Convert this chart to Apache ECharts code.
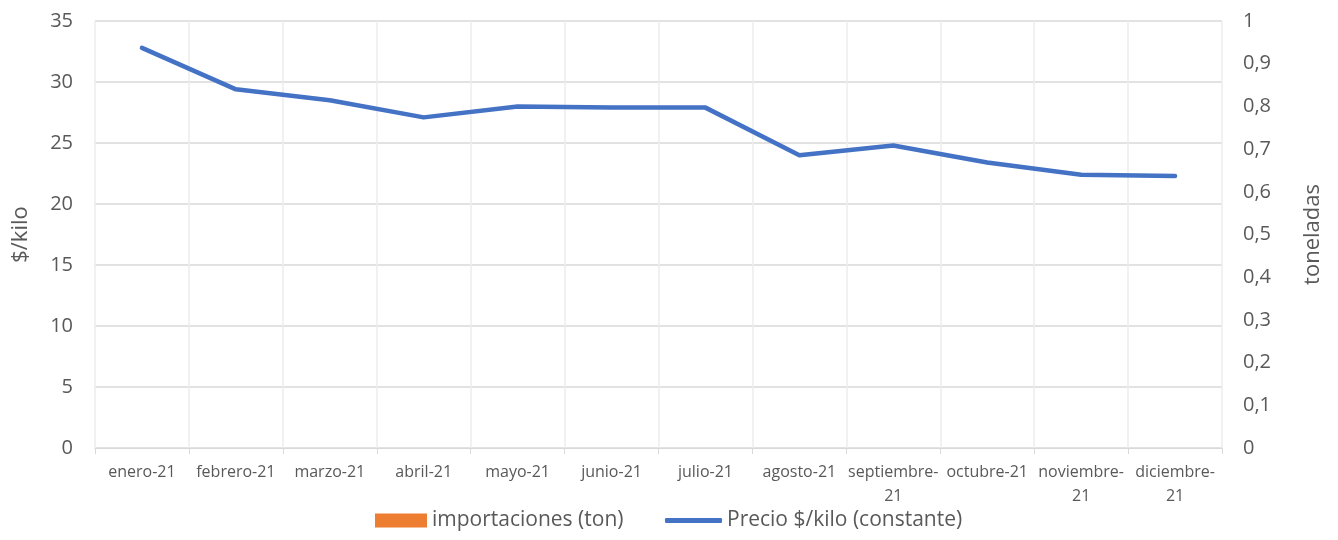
<!DOCTYPE html>
<html><head><meta charset="utf-8">
<script src="https://cdn.jsdelivr.net/npm/echarts@6/dist/echarts.min.js"></script>
<style>html,body{margin:0;padding:0;background:#fff}#c{width:1338px;height:540px}</style>
</head><body><div id="c"></div>
<script>
const categories = ['enero-21','febrero-21','marzo-21','abril-21','mayo-21','junio-21','julio-21','agosto-21','septiembre-21','octubre-21','noviembre-21','diciembre-21'];
const precio = [32.8, 29.4, 28.5, 27.1, 28.0, 27.9, 27.9, 24.0, 24.8, 23.4, 22.4, 22.3];
const importaciones = [null, null, null, null, null, null, null, null, null, null, null, null];
const leftTicks = {min: 0, max: 35, interval: 5};
const rightTicks = {min: 0, max: 1, interval: 0.1};

const FONT = '"Open Sans", Lato, sans-serif';
const chart = echarts.init(document.getElementById('c'));
chart.setOption({
  animation: false,
  textStyle: {fontFamily: FONT},
  grid: {left: 95, right: 116, top: 21, bottom: 92, containLabel: false},
  legend: [
    {
      top: 505, left: 370, itemWidth: 52, itemHeight: 14,
      textStyle: {fontSize: 21, color: '#595959', fontFamily: FONT},
      data: [{name: 'importaciones (ton)', icon: 'rect'}]
    },
    {
      top: 505, left: 660, itemWidth: 57, itemHeight: 5,
      textStyle: {fontSize: 21, color: '#595959', fontFamily: FONT},
      data: [{name: 'Precio $/kilo (constante)', icon: 'roundRect'}]
    }
  ],
  xAxis: {
    type: 'category', data: categories, boundaryGap: true,
    axisLine: {lineStyle: {color: '#d9d9d9', width: 1}},
    axisTick: {show: true, alignWithLabel: false, length: 6, lineStyle: {color: '#d9d9d9'}},
    splitLine: {show: true, lineStyle: {color: '#ececec', width: 1.5}},
    axisLabel: {
      interval: 0, color: '#595959', fontSize: 16, margin: 12, lineHeight: 24, fontFamily: FONT,
      formatter: v => v.length > 10 ? v.replace('-', '-\n') : v
    }
  },
  yAxis: [
    {
      type: 'value', min: leftTicks.min, max: leftTicks.max, interval: leftTicks.interval,
      name: '$/kilo', nameLocation: 'middle', nameGap: 63, nameRotate: 90,
      nameTextStyle: {fontSize: 22, color: '#595959', fontFamily: FONT},
      axisLine: {show: false}, axisTick: {show: false},
      splitLine: {show: true, lineStyle: {color: '#d9d9d9', width: 1.5}},
      axisLabel: {color: '#595959', fontSize: 20, margin: 22, fontFamily: FONT}
    },
    {
      type: 'value', min: rightTicks.min, max: rightTicks.max, interval: rightTicks.interval,
      name: 'toneladas', nameLocation: 'middle', nameGap: 80, nameRotate: 90,
      nameTextStyle: {fontSize: 22, color: '#595959', fontFamily: FONT},
      axisLine: {show: false}, axisTick: {show: false}, splitLine: {show: false},
      axisLabel: {color: '#595959', fontSize: 20, margin: 21, fontFamily: FONT,
        formatter: v => String(Math.round(v * 10) / 10).replace('.', ',')}
    }
  ],
  series: [
    {name: 'importaciones (ton)', type: 'bar', yAxisIndex: 1, data: importaciones,
     itemStyle: {color: '#ED7D31'}},
    {name: 'Precio $/kilo (constante)', type: 'line', yAxisIndex: 0, data: precio,
     symbol: 'none', lineStyle: {color: '#4472C4', width: 4.5, cap: 'round', join: 'round'},
     itemStyle: {color: '#4472C4'}}
  ]
});
</script></body></html>
